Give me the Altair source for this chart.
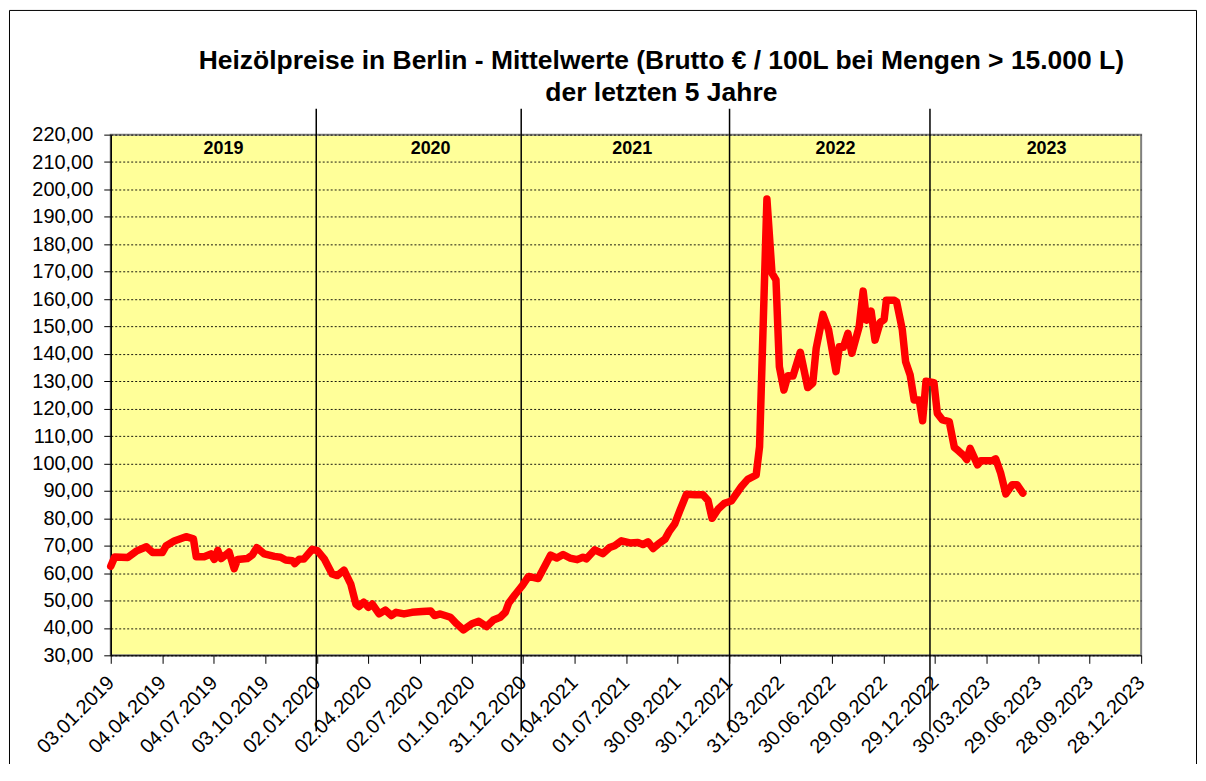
import altair as alt
import pandas as pd

title_line1 = "Heizölpreise in Berlin - Mittelwerte (Brutto € / 100L bei Mengen > 15.000 L)"
title_line2 = "der letzten 5 Jahre"

d2019 = ["2019-01-03", "2019-01-10", "2019-02-02", "2019-02-17", "2019-03-07", "2019-03-18",
         "2019-04-04", "2019-04-11", "2019-04-25", "2019-05-16", "2019-05-29", "2019-06-03",
         "2019-06-17", "2019-06-29", "2019-07-05", "2019-07-11", "2019-07-17", "2019-07-31",
         "2019-08-09", "2019-08-15", "2019-09-01", "2019-09-10", "2019-09-18", "2019-10-01",
         "2019-10-19", "2019-10-30", "2019-11-08", "2019-11-20", "2019-11-24", "2019-12-02",
         "2019-12-10", "2019-12-25"]
p2019 = [62.5, 65.9, 65.7, 68.0, 69.6, 67.5, 67.5, 70.0, 71.7, 73.3, 72.5, 66.0,
         66.0, 67.0, 65.0, 68.3, 65.3, 67.7, 61.6, 65.0, 65.3, 66.6, 69.3, 67.0,
         66.1, 65.8, 64.8, 64.5, 63.5, 65.1, 65.1, 68.7]

d2020 = ["2020-01-03", "2020-01-15", "2020-01-29", "2020-02-07", "2020-02-19", "2020-03-02",
         "2020-03-11", "2020-03-16", "2020-03-25", "2020-04-02", "2020-04-09", "2020-04-21",
         "2020-05-02", "2020-05-13", "2020-05-21", "2020-06-04", "2020-06-18", "2020-07-06",
         "2020-07-21", "2020-07-28", "2020-08-07", "2020-08-25", "2020-09-05", "2020-09-17",
         "2020-10-02", "2020-10-14", "2020-10-28", "2020-11-09", "2020-11-21", "2020-11-30",
         "2020-12-06", "2020-12-17", "2020-12-29"]
p2020 = [68.2, 65.2, 59.7, 59.1, 61.1, 56.0, 48.7, 47.8, 49.4, 47.5, 48.7, 45.1,
         46.5, 44.5, 45.7, 45.1, 45.7, 46.0, 46.2, 44.5, 45.1, 43.9, 41.5, 39.3,
         41.5, 42.4, 40.5, 42.9, 43.9, 45.7, 49.1, 52.1, 55.2]

d2021 = ["2021-01-10", "2021-01-27", "2021-02-08", "2021-02-18", "2021-03-01", "2021-03-12",
         "2021-03-24", "2021-04-06", "2021-04-16", "2021-04-22", "2021-05-07", "2021-05-21",
         "2021-06-02", "2021-06-11", "2021-06-23", "2021-07-08", "2021-07-22", "2021-07-31",
         "2021-08-09", "2021-08-18", "2021-08-27", "2021-09-08", "2021-09-16", "2021-09-25",
         "2021-10-04", "2021-10-16", "2021-10-31", "2021-11-14", "2021-11-23", "2021-11-30",
         "2021-12-11", "2021-12-22"]
p2021 = [58.8, 58.0, 62.7, 66.6, 65.5, 66.8, 65.5, 64.9, 65.8, 65.2, 68.5, 67.1,
         69.3, 70.0, 71.8, 71.0, 71.2, 70.4, 71.4, 69.0, 70.6, 72.4, 75.4, 77.9,
         82.7, 88.8, 88.6, 88.6, 86.5, 80.0, 83.4, 85.5]

d2022 = ["2022-01-03", "2022-01-21", "2022-02-01", "2022-02-16", "2022-02-22", "2022-03-07",
         "2022-03-16", "2022-03-23", "2022-03-29", "2022-04-06", "2022-04-13", "2022-04-22",
         "2022-05-05", "2022-05-18", "2022-05-27", "2022-06-02", "2022-06-14", "2022-06-24",
         "2022-07-07", "2022-07-13", "2022-07-20", "2022-07-28", "2022-08-04", "2022-08-17",
         "2022-08-24", "2022-08-30", "2022-09-07", "2022-09-14", "2022-09-23", "2022-09-30",
         "2022-10-04", "2022-10-18", "2022-10-22", "2022-11-01", "2022-11-07", "2022-11-15",
         "2022-11-22", "2022-12-01", "2022-12-07", "2022-12-13", "2022-12-27"]
p2022 = [86.3, 91.6, 94.2, 95.8, 106.1, 196.5, 169.4, 167.0, 135.3, 126.8, 132.0, 131.9,
         140.6, 127.7, 129.3, 142.0, 154.4, 148.7, 133.5, 142.6, 142.4, 147.5, 140.2, 150.0,
         162.9, 152.3, 155.6, 145.0, 151.5, 152.5, 159.6, 159.6, 159.0, 149.0, 137.1, 132.3,
         123.2, 123.2, 115.6, 130.0, 129.5]

d2023 = ["2023-01-02", "2023-01-11", "2023-01-23", "2023-02-01", "2023-02-09", "2023-02-18",
         "2023-02-23", "2023-03-01", "2023-03-14", "2023-03-20", "2023-04-09", "2023-04-15",
         "2023-04-24", "2023-05-03", "2023-05-14", "2023-05-23", "2023-06-02"]
p2023 = [118.3, 115.9, 115.3, 105.9, 104.5, 102.8, 101.4, 105.5, 99.5, 101.0, 101.0, 101.7,
         96.4, 88.9, 92.2, 92.2, 89.2]

years = ["2019", "2020", "2021", "2022", "2023"]
year_label_dates = ["2019-07-21", "2020-07-21", "2021-07-12", "2022-07-06", "2023-07-14"]
year_line_dates = ["2020-01-01", "2020-12-28", "2021-12-31", "2022-12-20"]

tick_labels = ["03.01.2019", "04.04.2019", "04.07.2019", "03.10.2019", "02.01.2020",
               "02.04.2020", "02.07.2020", "01.10.2020", "31.12.2020", "01.04.2021",
               "01.07.2021", "30.09.2021", "30.12.2021", "31.03.2022", "30.06.2022",
               "29.09.2022", "29.12.2022", "30.03.2023", "29.06.2023", "28.09.2023",
               "28.12.2023"]
y_ticks = list(range(30, 221, 10))

FONT = "Liberation Sans"


def tick_dt(s):
    d, m, y = s.split(".")
    return alt.DateTime(year=int(y), month=int(m), date=int(d), utc=True)


df = pd.DataFrame({
    "date": d2019 + d2020 + d2021 + d2022 + d2023,
    "price": p2019 + p2020 + p2021 + p2022 + p2023,
})
df_years = pd.DataFrame({"year": years, "date": year_label_dates})
df_lines = pd.DataFrame({"date": year_line_dates})
one = pd.DataFrame({"k": [0]})

xscale = alt.Scale(type="utc", domain=[tick_dt(tick_labels[0]), tick_dt(tick_labels[-1])])
yscale = alt.Scale(domain=[30, 220], nice=False, zero=False)

x_axis = alt.Axis(values=[tick_dt(t) for t in tick_labels], format="%d.%m.%Y",
                  labelAngle=-45, labelAlign="right", labelBaseline="middle",
                  labelPadding=16, labelFontSize=20, labelFont=FONT, labelColor="black",
                  labelOverlap=False, labelFlush=False, tickSize=8, tickColor="black",
                  domainColor="black", domainWidth=1, grid=False, title=None)
y_axis = alt.Axis(values=y_ticks,
                  labelExpr="replace(format(datum.value, '.2f'), '.', ',')",
                  labelFontSize=20, labelFont=FONT, labelColor="black", labelPadding=11,
                  tickSize=7, tickColor="black", domainColor="black", domainWidth=1.5,
                  grid=True, gridColor="black", gridDash=[2, 2], gridWidth=1,
                  gridOpacity=0.9, title=None)

line = alt.Chart(df).mark_line(color="#FF0000", strokeWidth=7.5, strokeJoin="round",
                               strokeCap="round").encode(
    x=alt.X("date:T", scale=xscale, axis=x_axis),
    y=alt.Y("price:Q", scale=yscale, axis=y_axis),
)

year_rules = alt.Chart(df_lines).mark_rule(color="black", strokeWidth=1.5).encode(
    x=alt.X("date:T", scale=xscale),
    y=alt.value(-26),
    y2=alt.value(598),
)

year_text = alt.Chart(df_years).mark_text(fontSize=18, fontWeight="bold", font=FONT,
                                          color="black", baseline="middle").encode(
    x=alt.X("date:T", scale=xscale),
    y=alt.value(14),
    text="year:N",
)

t1 = alt.Chart(one).mark_text(fontSize=26.5, fontWeight="bold", font=FONT, color="black",
                              baseline="middle", align="center").encode(
    x=alt.value(552), y=alt.value(-74), text=alt.value(title_line1))
t2 = alt.Chart(one).mark_text(fontSize=26.5, fontWeight="bold", font=FONT, color="black",
                              baseline="middle", align="center").encode(
    x=alt.value(552), y=alt.value(-42), text=alt.value(title_line2))

frame_left = alt.Chart(one).mark_rule(color="black", strokeWidth=1).encode(
    x=alt.value(-101.5), y=alt.value(-124.5), y2=alt.value(700))
frame_top = alt.Chart(one).mark_rule(color="black", strokeWidth=1).encode(
    x=alt.value(-101.5), x2=alt.value(1088.5), y=alt.value(-124.5))
frame_right = alt.Chart(one).mark_rule(color="black", strokeWidth=1).encode(
    x=alt.value(1088.5), y=alt.value(-124.5), y2=alt.value(700))

chart = alt.layer(
    year_rules, line, year_text, t1, t2, frame_left, frame_top, frame_right
).properties(
    width=1033, height=522,
    padding={"left": 103, "top": 126, "right": 57, "bottom": 108},
    autosize=alt.AutoSizeParams(type="none"),
    background="white",
).configure_view(
    fill="#FFFF99", stroke="#808080", strokeWidth=2
).configure_axisY(
    labelFontSize=20, labelFont=FONT
).configure_axisX(
    labelFontSize=20, labelFont=FONT
)

chart.save("out.html", embed_options={"renderer": "svg", "actions": False})
